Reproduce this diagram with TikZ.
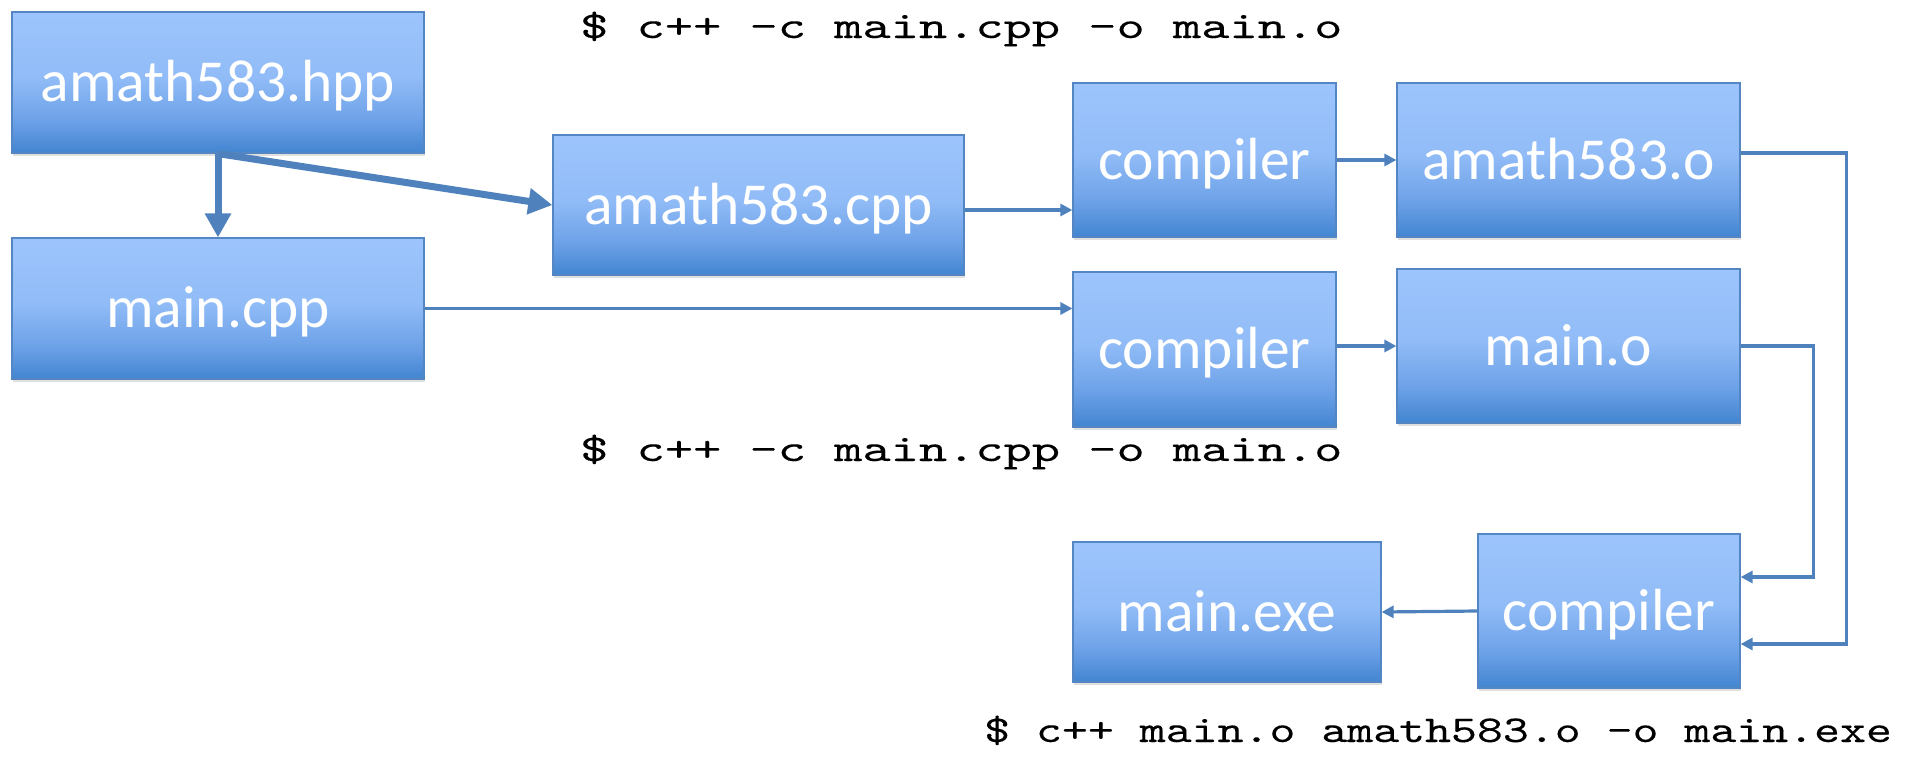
\documentclass[tikz,border=0pt]{standalone}
\usepackage{fontspec}
\usepackage{graphicx}
\newfontfamily\boxfont{Carlito}
\newfontfamily\cmdfont[FakeBold=0.12]{lmmono10-regular.otf}
\usetikzlibrary{arrows.meta,shadows}

\definecolor{linkblue}{RGB}{79,129,189}
\definecolor{edgeblue}{RGB}{84,134,196}
\definecolor{gradtop}{RGB}{157,196,252}
\definecolor{gradmid}{RGB}{145,188,247}
\definecolor{gradlow}{RGB}{110,162,232}
\definecolor{gradbot}{RGB}{66,133,208}

% light-to-dark vertical fill of the file boxes (visible band is 25bp..75bp)
\pgfdeclareverticalshading{filegrad}{100bp}{%
  color(0bp)=(gradbot); color(25bp)=(gradbot); color(37bp)=(gradlow);
  color(52bp)=(gradmid); color(75bp)=(gradtop); color(100bp)=(gradtop)}

\tikzset{
  filebox/.style={draw=edgeblue, line width=1.2pt, shading=filegrad,
    inner sep=0pt, text=white,
    font=\boxfont\fontsize{59.5}{62}\selectfont,
    text height=38pt, text depth=0pt,
    drop shadow={shadow xshift=0.5pt, shadow yshift=-3pt, opacity=0.25}},
  thinlink/.style={draw=linkblue, line width=3.2pt,
    -{Triangle[length=12pt,width=12pt]}},
  thicklink/.style={draw=linkblue, line width=7pt,
    -{Triangle[length=24pt,width=25pt]}},
  cmdline/.style={anchor=base west, inner sep=0pt,
    font=\cmdfont\fontsize{38}{42}\selectfont}
}

\begin{document}
\begin{tikzpicture}[x=1pt,y=-1pt]
  \useasboundingbox (0,0) rectangle (1925,756);

  % sources
  \node[filebox, minimum width=412pt, minimum height=141pt] (hpp)  at (218,82.5)  {amath583.hpp};
  \node[filebox, minimum width=412pt, minimum height=141pt] (mcpp) at (218,308.5) {main.cpp};
  \node[filebox, minimum width=411pt, minimum height=140pt] (acpp) at (758.5,205) {amath583.cpp};

  % compile stage
  \node[filebox, minimum width=263pt, minimum height=154pt] (comp1) at (1204.5,160)   {compiler};
  \node[filebox, minimum width=343pt, minimum height=154pt] (ao)    at (1568.5,160)   {amath583.o};
  \node[filebox, minimum width=263pt, minimum height=155pt] (comp2) at (1204.5,349.5) {compiler};
  \node[filebox, minimum width=343pt, minimum height=154pt] (mo)    at (1568.5,346)   {main.o};

  % link stage
  \node[filebox, minimum width=308pt, minimum height=140pt] (exe)   at (1227,612) {main.exe};
  \node[filebox, minimum width=262pt, minimum height=154pt] (comp3) at (1609,611) {compiler};

  % include dependencies
  \draw[thicklink] (hpp.south) -- (mcpp.north);
  \draw[thicklink] (hpp.south) -- (acpp.west);

  % compilation flow
  \draw[thinlink] ([yshift=-5pt]acpp.east) -- ([yshift=-5pt]acpp.east -| comp1.west);
  \draw[thinlink] (mcpp.east) -- (mcpp.east -| comp2.west);
  \draw[thinlink] (comp1.east) -- (ao.west);
  \draw[thinlink] (mo.west -| comp2.east) -- (mo.west);

  % linking
  \draw[thinlink] ([yshift=7pt]ao.east) -- ++(106,0) |- ([yshift=-33pt]comp3.east);
  \draw[thinlink] (mo.east) -- ++(73,0) |- ([yshift=34pt]comp3.east);
  \draw[thinlink] (comp3.west) -- (exe.east);

  % shell commands
  \node[cmdline] (cmdA) at (580,38)  {\scalebox{1.415}[1]{\$ c++ -c main.cpp -o main.o}};
  \node[cmdline] (cmdB) at (580,461) {\scalebox{1.415}[1]{\$ c++ -c main.cpp -o main.o}};
  \node[cmdline] (cmdC) at (984,742) {\scalebox{1.3}[1]{\$ c++ main.o amath583.o -o main.exe}};
\end{tikzpicture}
\end{document}
